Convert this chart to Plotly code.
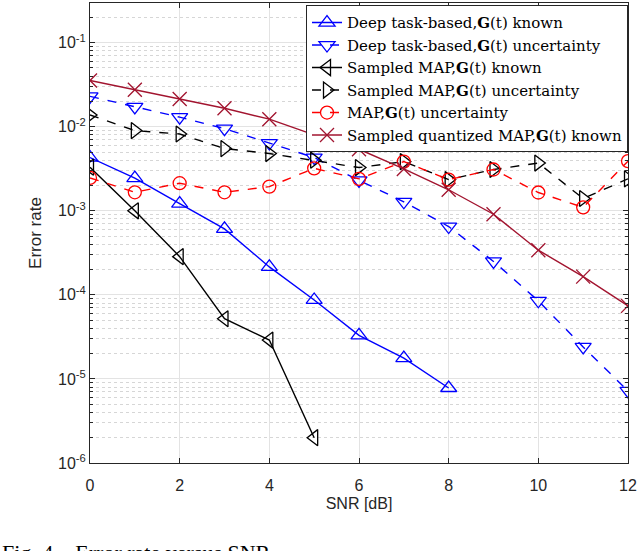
import plotly.graph_objects as go

snr_full = [0, 1, 2, 3, 4, 5, 6, 7, 8, 9, 10, 11, 12]
snr_deep_known = [0, 1, 2, 3, 4, 5, 6, 7, 8]
snr_map_known = [0, 1, 2, 3, 4, 5]

deep_known = [4.3e-3, 2.45e-3, 1.22e-3, 6.1e-4, 2.15e-4, 8.7e-5, 3.3e-5, 1.77e-5, 7.8e-6]
deep_unc = [2.3e-2, 1.72e-2, 1.3e-2, 9.5e-3, 6.4e-3, 4.3e-3, 2.3e-3, 1.28e-3, 6.5e-4,
            2.5e-4, 8.5e-5, 2.4e-5, 7.2e-6]
smap_known = [3.3e-3, 1.0e-3, 2.85e-4, 5.2e-5, 2.9e-5, 2.0e-6]
smap_unc = [1.38e-2, 9.0e-3, 8.2e-3, 5.5e-3, 4.8e-3, 4.0e-3, 3.27e-3, 3.85e-3, 2.35e-3,
            3.1e-3, 3.7e-3, 1.4e-3, 2.4e-3]
map_unc = [2.46e-3, 1.66e-3, 2.13e-3, 1.66e-3, 1.94e-3, 3.2e-3, 2.4e-3, 3.85e-3, 2.35e-3,
           3.1e-3, 1.65e-3, 1.1e-3, 3.9e-3]
sqmap_known = [3.55e-2, 2.75e-2, 2.14e-2, 1.66e-2, 1.23e-2, 8.0e-3, 5.4e-3, 3.15e-3, 1.78e-3,
               9.1e-4, 3.4e-4, 1.65e-4, 7.4e-5]

names = [
    "Deep task-based,<b>G</b>(t) known",
    "Deep task-based,<b>G</b>(t) uncertainty",
    "Sampled MAP,<b>G</b>(t) known",
    "Sampled MAP,<b>G</b>(t) uncertainty",
    "MAP,<b>G</b>(t) uncertainty",
    "Sampled quantized MAP,<b>G</b>(t) known",
]
ytick_vals = [1e-6, 1e-5, 1e-4, 1e-3, 1e-2, 1e-1]
ytick_text = ["10<sup>-6</sup>", "10<sup>-5</sup>", "10<sup>-4</sup>",
              "10<sup>-3</sup>", "10<sup>-2</sup>", "10<sup>-1</sup>"]

series = [
    (snr_deep_known, deep_known, "#0000FF", "solid", "triangle-up-open"),
    (snr_full, deep_unc, "#0000FF", "dash", "triangle-down-open"),
    (snr_map_known, smap_known, "#000000", "solid", "triangle-left-open"),
    (snr_full, smap_unc, "#000000", "dash", "triangle-right-open"),
    (snr_full, map_unc, "#FF0000", "dash", "circle-open"),
    (snr_full, sqmap_known, "#A2142F", "solid", "x-thin-open"),
]

fig = go.Figure()
for (xs, ys, col, dash, sym), nm in zip(series, names):
    fig.add_trace(go.Scatter(
        x=xs, y=ys, name=nm, mode="lines+markers",
        line=dict(color=col, width=1.4, dash=dash),
        marker=dict(symbol=sym, size=14 if sym != "circle-open" else 13,
                    color=col, line=dict(color=col, width=1.3)),
    ))

axis_font = dict(family="Liberation Sans, Arial, sans-serif", size=16, color="#262626")

fig.update_layout(
    width=640, height=551,
    margin=dict(l=90, r=12, t=3, b=88),
    paper_bgcolor="white", plot_bgcolor="white",
    font=axis_font,
    showlegend=True,
    legend=dict(
        x=1, y=0.995, xanchor="right", yanchor="top",
        bgcolor="white", bordercolor="#262626", borderwidth=1,
        font=dict(family="DejaVu Serif, Liberation Serif, serif", size=15, color="#000000"),
        tracegroupgap=0, itemwidth=30,
    ),
    xaxis=dict(
        range=[0, 12], dtick=2, tick0=0,
        showgrid=True, gridcolor="#E3E3E3", gridwidth=1,
        ticks="inside", ticklen=5, tickcolor="#262626",
        showline=True, linecolor="#262626", linewidth=1, mirror="ticks",
        zeroline=False, ticklabelstandoff=8,
        title=dict(text="SNR [dB]", font=axis_font, standoff=4),
        tickfont=axis_font,
    ),
    yaxis=dict(
        type="log", range=[-6, -0.528],
        tickvals=ytick_vals, ticktext=ytick_text,
        showgrid=True, gridcolor="#E3E3E3", gridwidth=1,
        ticks="inside", ticklen=5, tickcolor="#262626",
        showline=True, linecolor="#262626", linewidth=1, mirror="ticks",
        zeroline=False,
        minor=dict(dtick="D1", showgrid=True, gridcolor="#D6D6D6", griddash="dot",
                   ticks="inside", ticklen=3, tickcolor="#262626"),
        title=dict(text="Error rate", font=dict(family="Liberation Sans, Arial, sans-serif",
                                                size=17, color="#262626"), standoff=12),
        tickfont=axis_font,
    ),
)

fig.add_annotation(
    text="Fig. 4.   Error rate versus SNR", xref="paper", yref="paper",
    x=-0.167, y=-0.163, xanchor="left", yanchor="top", showarrow=False,
    font=dict(family="Liberation Serif, DejaVu Serif, serif", size=22, color="#000000"),
)

fig.write_html("out.html", post_script="document.body.style.margin='0px';",
               config={"displayModeBar": False})
